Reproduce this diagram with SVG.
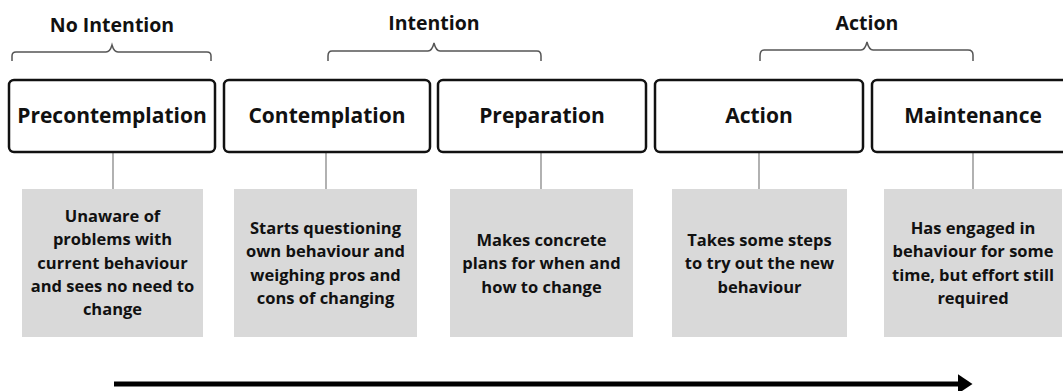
<svg xmlns="http://www.w3.org/2000/svg" width="1063" height="391" viewBox="0 0 1063 391">
<style>
.stage{fill:#fff;stroke:#111;stroke-width:2.5}
.title{font-family:"Open Sans",sans-serif;font-weight:700;font-size:21px;fill:#111;text-anchor:middle}
.desc{fill:#d9d9d9}
.dtext{font-family:"Open Sans",sans-serif;font-weight:700;font-size:16.5px;fill:#111;text-anchor:middle}
.phase{font-family:"Open Sans",sans-serif;font-weight:700;font-size:19.5px;fill:#111;text-anchor:middle}
.brace{fill:none;stroke:#555;stroke-width:1.5}
.conn{stroke:#888;stroke-width:1.3}
</style>
<defs>
<marker id="arr" markerWidth="4" markerHeight="4" refX="1.5" refY="2" orient="auto" markerUnits="strokeWidth">
<path d="M0,0 L3,2 L0,4 Z" fill="#000"/>
</marker>
</defs>
<rect width="1063" height="391" fill="#fff"/>
<g id="phases">
<text class="phase" x="112" y="32">No Intention</text>
<text class="phase" x="434" y="30">Intention</text>
<text class="phase" x="867" y="30">Action</text>
<path class="brace" d="M12,61 V56 Q12,52 16,52 H106 Q110,52 112,45 Q114,52 118,52 H207 Q211,52 211,56 V61"/>
<path class="brace" d="M328,61 V56 Q328,51 332,51 H428 Q432,51 434,43 Q436,51 440,51 H537 Q541,51 541,56 V61"/>
<path class="brace" d="M760,61 V56 Q760,50 764,50 H861 Q865,50 867,42 Q869,50 873,50 H968 Q973,50 973,55 V61"/>
</g>
<g id="connectors">
<line class="conn" x1="113" y1="152" x2="113" y2="189"/>
<line class="conn" x1="326" y1="152" x2="326" y2="189"/>
<line class="conn" x1="541" y1="152" x2="541" y2="189"/>
<line class="conn" x1="759" y1="152" x2="759" y2="189"/>
<line class="conn" x1="973" y1="152" x2="973" y2="189"/>
<line x1="114" y1="384" x2="965" y2="384" stroke="#000" stroke-width="5" marker-end="url(#arr)"/>
</g>
<g id="precontemplation">
<rect class="stage" x="9" y="80" width="206" height="72" rx="5"/>
<text class="title" x="112" y="123">Precontemplation</text>
<rect class="desc" x="22" y="189" width="181" height="148"/>
<text class="dtext" x="112.5" y="222"><tspan x="112.5">Unaware of</tspan><tspan x="112.5" dy="23.3">problems with</tspan><tspan x="112.5" dy="23.3">current behaviour</tspan><tspan x="112.5" dy="23.3">and sees no need to</tspan><tspan x="112.5" dy="23.3">change</tspan></text>
</g>
<g id="contemplation">
<rect class="stage" x="224" y="80" width="206" height="72" rx="5"/>
<text class="title" x="327" y="123">Contemplation</text>
<rect class="desc" x="234" y="189" width="183" height="148"/>
<text class="dtext" x="325.5" y="234"><tspan x="325.5">Starts questioning</tspan><tspan x="325.5" dy="23.3">own behaviour and</tspan><tspan x="325.5" dy="23.3">weighing pros and</tspan><tspan x="325.5" dy="23.3">cons of changing</tspan></text>
</g>
<g id="preparation">
<rect class="stage" x="438" y="80" width="208" height="72" rx="5"/>
<text class="title" x="542" y="123">Preparation</text>
<rect class="desc" x="450" y="189" width="183" height="148"/>
<text class="dtext" x="541.5" y="246"><tspan x="541.5">Makes concrete</tspan><tspan x="541.5" dy="23.3">plans for when and</tspan><tspan x="541.5" dy="23.3">how to change</tspan></text>
</g>
<g id="action">
<rect class="stage" x="655" y="80" width="208" height="72" rx="5"/>
<text class="title" x="759" y="123">Action</text>
<rect class="desc" x="672" y="189" width="175" height="148"/>
<text class="dtext" x="759.5" y="246"><tspan x="759.5">Takes some steps</tspan><tspan x="759.5" dy="23.3">to try out the new</tspan><tspan x="759.5" dy="23.3">behaviour</tspan></text>
</g>
<g id="maintenance">
<rect class="stage" x="872" y="80" width="200" height="72" rx="5"/>
<text class="title" x="973" y="123">Maintenance</text>
<rect class="desc" x="884" y="189" width="178" height="148"/>
<text class="dtext" x="973" y="234"><tspan x="973">Has engaged in</tspan><tspan x="973" dy="23.3">behaviour for some</tspan><tspan x="973" dy="23.3">time, but effort still</tspan><tspan x="973" dy="23.3">required</tspan></text>
</g>
</svg>
